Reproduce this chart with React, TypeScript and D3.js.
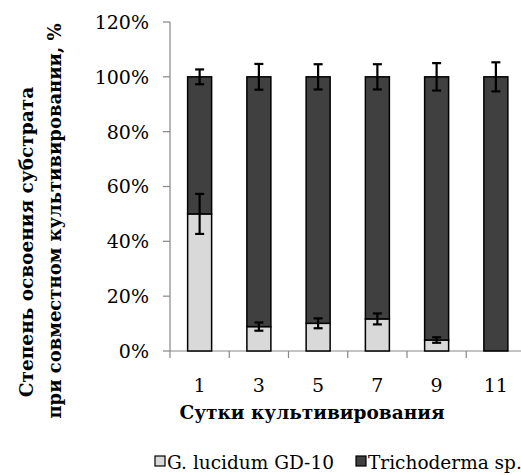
import * as d3 from "d3";
import * as React from "react";

// days of cultivation
const days = ["1", "3", "5", "7", "9", "11"];
// share of substrate, %
const lucidum = [50, 8.9, 10.1, 11.7, 4, 0];
const lucidumErr = [7.3, 1.5, 1.8, 2, 1, 0];
const trichoderma = [50, 91.1, 89.9, 88.3, 96, 100];
const trichodermaErr = [2.7, 4.7, 4.6, 4.6, 5, 5.3];
const yTicks = [0, 20, 40, 60, 80, 100, 120];

const seriesNames = ["G. lucidum GD-10", "Trichoderma sp."];
const colors = ["#d9d9d9", "#404040"];

const width = 521;
const height = 475;
const font = "'DejaVu Serif', 'Liberation Serif', 'Noto Serif', serif";
const axisColor = "#878787";

export default function App() {
  let x = d3.scaleBand().domain(days).range([170, 525.5]).padding(0);
  let y = d3.scaleLinear().domain([0, 120]).range([351, 22]);
  let barW = 24;

  let stacked = days.map((d, i) => ({
    day: d,
    parts: [
      { y0: 0, y1: lucidum[i], err: lucidumErr[i], color: colors[0] },
      {
        y0: lucidum[i],
        y1: lucidum[i] + trichoderma[i],
        err: trichodermaErr[i],
        color: colors[1],
      },
    ],
  }));

  const T = (props: any) => <text fontFamily={font} {...props} />;

  return (
    <svg
      width={width}
      height={height}
      style={{ position: "absolute", left: 0, top: 0, background: "#fff" }}
    >
      {/* y axis */}
      <line x1={170} x2={170} y1={y(120)} y2={358} stroke={axisColor} strokeWidth={1.2} />
      {yTicks.map((t) => (
        <g key={t}>
          <line x1={163} x2={170} y1={y(t)} y2={y(t)} stroke={axisColor} strokeWidth={1.2} />
          <T x={149} y={y(t)} dy="0.36em" textAnchor="end" fontSize={19}>
            {t}%
          </T>
        </g>
      ))}

      {/* x axis */}
      <line x1={170} x2={width} y1={y(0)} y2={y(0)} stroke={axisColor} strokeWidth={1.2} />
      {days.map((d) => (
        <line
          key={"t" + d}
          x1={x(d)! + x.step()}
          x2={x(d)! + x.step()}
          y1={y(0)}
          y2={358}
          stroke={axisColor}
          strokeWidth={1.2}
        />
      ))}
      {days.map((d) => (
        <T key={"l" + d} x={x(d)! + x.bandwidth() / 2} y={392} textAnchor="middle" fontSize={19}>
          {d}
        </T>
      ))}

      {/* bars */}
      {stacked.map((s) => {
        let cx = x(s.day)! + x.bandwidth() / 2;
        return (
          <g key={"b" + s.day}>
            {s.parts.map((p, j) =>
              p.y1 - p.y0 > 0 ? (
                <rect
                  key={j}
                  x={cx - barW / 2}
                  y={y(p.y1)}
                  width={barW}
                  height={y(p.y0) - y(p.y1)}
                  fill={p.color}
                  stroke="#000"
                  strokeWidth={1.5}
                />
              ) : null
            )}
            {s.parts.map((p, j) =>
              p.err > 0 ? (
                <g key={"e" + j} stroke="#000" strokeWidth={2.2}>
                  <line x1={cx} x2={cx} y1={y(p.y1 + p.err)} y2={y(p.y1 - p.err)} />
                  <line x1={cx - 4.5} x2={cx + 4.5} y1={y(p.y1 + p.err)} y2={y(p.y1 + p.err)} />
                  <line x1={cx - 4.5} x2={cx + 4.5} y1={y(p.y1 - p.err)} y2={y(p.y1 - p.err)} />
                </g>
              ) : null
            )}
          </g>
        );
      })}

      {/* axis titles */}
      <T x={312} y={419} textAnchor="middle" fontSize={18.5} fontWeight="bold">
        Сутки культивирования
      </T>
      <T transform="translate(33,242) rotate(-90)" textAnchor="middle" fontSize={18.5} fontWeight="bold">
        Степень освоения субстрата
      </T>
      <T transform="translate(61,221) rotate(-90)" textAnchor="middle" fontSize={18} fontWeight="bold">
        при совместном культивировании, %
      </T>

      {/* legend */}
      {seriesNames.map((n, i) => {
        let lx = [155, 356][i];
        return (
          <g key={n}>
            <rect x={lx} y={456} width={10} height={10} fill={colors[i]} stroke="#000" strokeWidth={1.2} />
            <T x={lx + 12} y={469} fontSize={18.5}>
              {n}
            </T>
          </g>
        );
      })}
    </svg>
  );
}
